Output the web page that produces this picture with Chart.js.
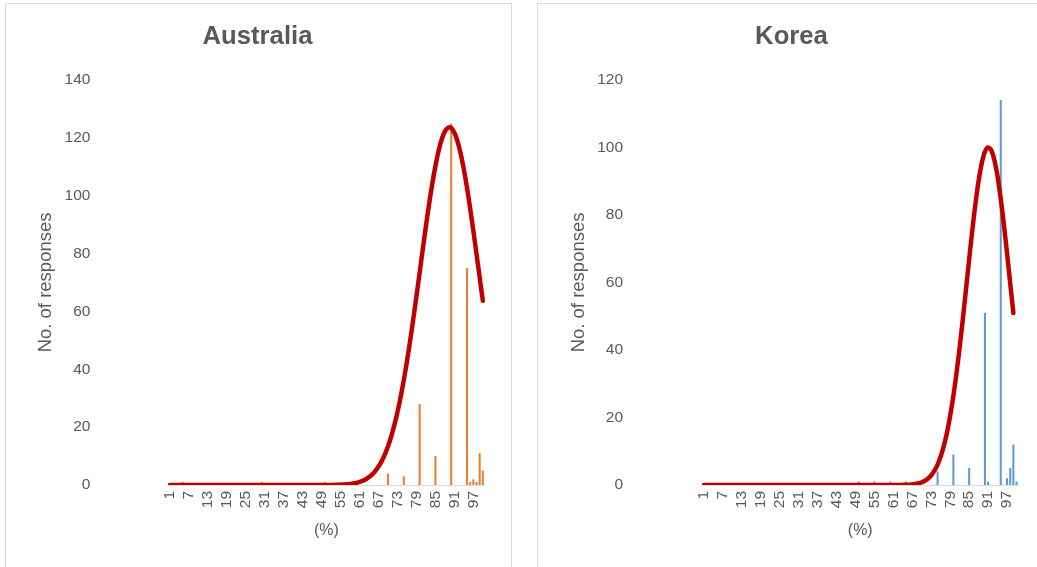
<!DOCTYPE html>
<html>
<head>
<meta charset="utf-8">
<script src="https://cdn.jsdelivr.net/npm/chart.js@4.4.1/dist/chart.umd.min.js"></script>
<style>
  html, body { margin: 0; padding: 0; background: #fff; width: 1037px; height: 567px; overflow: hidden; }
  .panel { position: absolute; border: 1px solid #d9d9d9; border-bottom: none; background: #fff; }
  #panelAus { left: 5px; top: 3px; width: 505px; height: 580px; }
  #panelKor { left: 537px; top: 3px; width: 520px; height: 580px; }
  canvas { position: absolute; }
</style>
</head>
<body>
<div class="panel" id="panelAus"></div>
<div class="panel" id="panelKor"></div>
<canvas id="chartAus" width="504" height="563" style="left:6px;top:4px"></canvas>
<canvas id="chartKor" width="505" height="563" style="left:539px;top:4px"></canvas>

<script>
// Response share (%) on the x axis, one category per whole percent
const percentCategories = [
  1,2,3,4,5,6,7,8,9,10,11,12,13,14,15,16,17,18,19,20,
  21,22,23,24,25,26,27,28,29,30,31,32,33,34,35,36,37,38,39,40,
  41,42,43,44,45,46,47,48,49,50,51,52,53,54,55,56,57,58,59,60,
  61,62,63,64,65,66,67,68,69,70,71,72,73,74,75,76,77,78,79,80,
  81,82,83,84,85,86,87,88,89,90,91,92,93,94,95,96,97,98,99,100
];

// Australia: number of responses at each reported percentage
const ausPercents = [5, 30, 50, 55, 60, 70, 75, 80, 85, 90, 95, 96, 97, 98, 99, 100];
const ausCounts   = [1, 1, 1, 1, 1, 4, 3, 28, 10, 125, 75, 1, 2, 1, 11, 5];

// Korea: number of responses at each reported percentage
const korPercents = [50, 55, 60, 65, 75, 80, 85, 90, 91, 95, 97, 98, 99, 100];
const korCounts   = [1, 1, 1, 1, 4, 9, 5, 51, 1, 114, 2, 5, 12, 1];

// Fitted normal curves (responses), one value per category
const ausCurve = [
  0,0,0,0,0,0,0,0,0,0,
  0,0,0,0,0,0,0,0,0,0,
  0,0,0,0,0,0,0,0,0,0,
  0,0,0,0,0,0,0,0,0,0,
  0,0,0,0,0,0,0,0,0,0.01,
  0.02,0.03,0.05,0.08,0.11,0.17,0.25,0.37,0.53,0.75,
  1.05,1.47,2.01,2.74,3.67,4.87,6.38,8.26,10.58,13.39,
  16.73,20.67,25.24,30.46,36.31,42.79,49.83,57.35,65.23,73.34,
  81.48,89.44,97.04,104.05,110.24,115.44,119.47,122.18,123.48,123.34,
  121.75,118.77,114.49,109.08,102.7,95.55,87.87,79.86,71.72,63.66
];
const korCurve = [
  0,0,0,0,0,0,0,0,0,0,
  0,0,0,0,0,0,0,0,0,0,
  0,0,0,0,0,0,0,0,0,0,
  0,0,0,0,0,0,0,0,0,0,
  0,0,0,0,0,0,0,0,0,0,
  0,0,0,0,0,0,0,0,0,0,
  0.01,0.01,0.02,0.04,0.06,0.11,0.19,0.31,0.51,0.81,
  1.27,1.94,2.89,4.23,6.06,8.5,11.65,15.63,20.54,26.39,
  33.19,40.84,49.19,57.98,66.87,75.48,83.38,90.13,95.34,98.7,
  99.99,99.13,96.17,91.31,84.83,77.13,68.63,59.76,50.92,null
];

// Axis tick settings
const ausYMax = 140;
const korYMax = 120;
const yStep = 20;
const xLabelEvery = 6;

const FONT = "'Liberation Sans', Arial, sans-serif";
const GREY = '#595959';

function countsPerCategory(percents, counts) {
  return percentCategories.map(p => {
    const i = percents.indexOf(p);
    return i >= 0 ? counts[i] : 0;
  });
}

function drawPanel(canvasId, titleText, percents, counts, curve, barColor, yMax, geo) {
  const ctx = document.getElementById(canvasId).getContext('2d');
  return new Chart(ctx, {
    type: 'bar',
    data: {
      labels: percentCategories.map(String),
      datasets: [
        {
          type: 'line',
          label: 'Normal curve',
          data: curve,
          borderColor: '#C00000',
          borderWidth: 4.5,
          borderCapStyle: 'round',
          borderJoinStyle: 'round',
          pointRadius: 0,
          tension: 0.3,
          fill: false,
          spanGaps: false,
          order: 0
        },
        {
          type: 'bar',
          label: 'Responses',
          data: countsPerCategory(percents, counts),
          backgroundColor: barColor,
          borderWidth: 0,
          categoryPercentage: 1.0,
          barPercentage: 0.65,
          order: 1
        }
      ]
    },
    options: {
      responsive: false,
      animation: false,
      layout: { padding: { left: geo.padLeft, right: geo.padRight, top: 0, bottom: 0 } },
      plugins: {
        legend: { display: false },
        tooltip: { enabled: false },
        title: {
          display: true,
          text: titleText,
          color: GREY,
          font: { family: FONT, size: 25.7, weight: 'bold' },
          padding: { top: 17, bottom: 28 }
        }
      },
      scales: {
        x: {
          type: 'category',
          grid: { display: false, drawTicks: false },
          border: { display: true, color: '#d9d9d9', width: 1 },
          ticks: {
            autoSkip: false,
            minRotation: 90,
            maxRotation: 90,
            padding: 6,
            color: GREY,
            font: { family: FONT, size: 15.5 },
            callback: function (value, index) {
              return index % xLabelEvery === 0 ? this.getLabelForValue(value) : null;
            }
          },
          title: {
            display: true,
            text: '(%)',
            color: GREY,
            font: { family: FONT, size: 16 },
            padding: { top: 0, bottom: 26.4 }
          },
          afterFit: scale => {
            scale.height = 82;
            scale.paddingLeft = 0;
            scale.paddingRight = 0;
          }
        },
        y: {
          min: 0,
          max: yMax,
          grid: { display: false, drawTicks: false },
          border: { display: false },
          ticks: {
            stepSize: yStep,
            padding: geo.tickPad,
            color: GREY,
            font: { family: FONT, size: 15.5 }
          },
          title: {
            display: true,
            text: 'No. of responses',
            color: GREY,
            font: { family: FONT, size: 18.5 },
            padding: { top: geo.titlePad, bottom: 0 }
          },
          afterFit: scale => {
            scale.width = geo.yWidth;
            scale.paddingTop = 0;
            scale.paddingBottom = 0;
          }
        }
      }
    }
  });
}

drawPanel('chartAus', 'Australia', ausPercents, ausCounts, ausCurve, '#ED7D31', ausYMax,
  { padLeft: 24.6, padRight: 25.6, yWidth: 137.8, tickPad: 78, titlePad: 4.1 });
drawPanel('chartKor', 'Korea', korPercents, korCounts, korCurve, '#5B9BD5', korYMax,
  { padLeft: 25.9, padRight: 25.9, yWidth: 137.5, tickPad: 79.4, titlePad: 3.0 });
</script>
</body>
</html>
